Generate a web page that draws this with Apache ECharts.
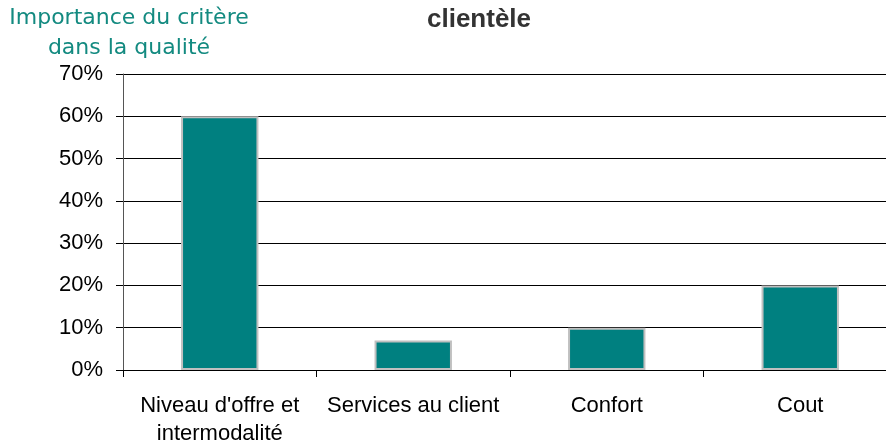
<!DOCTYPE html>
<html>
<head>
<meta charset="utf-8">
<script src="https://cdn.jsdelivr.net/npm/echarts@6/dist/echarts.min.js"></script>
<style>
  html, body { margin: 0; padding: 0; background: #fff; }
  #chart { width: 886px; height: 441px; }
</style>
</head>
<body>
<div id="chart"></div>
<script>
// données
const categories = ["Niveau d'offre et\nintermodalité", 'Services au client', 'Confort', 'Cout']
const values = [60, 7, 10, 20]
const yTicks = [0, 10, 20, 30, 40, 50, 60, 70]

const myChart = echarts.init(document.getElementById('chart'))

const option = {
  animation: false,
  title: {
    text: 'clientèle',
    left: 422,
    top: 2,
    textStyle: {
      fontFamily: 'Liberation Sans',
      fontSize: 26,
      fontWeight: 'bold',
      color: '#333333'
    }
  },
  grid: {
    left: 123,
    top: 74,
    width: 774,
    height: 296,
    outerBoundsMode: 'none',
    containLabel: false
  },
  xAxis: {
    type: 'category',
    data: categories,
    boundaryGap: true,
    axisLine: { lineStyle: { color: '#000', width: 1 } },
    axisTick: { show: true, length: 7, lineStyle: { color: '#000' } },
    axisLabel: {
      interval: 0,
      margin: 22,
      color: '#000',
      fontFamily: 'Liberation Sans',
      fontSize: 22,
      lineHeight: 28
    }
  },
  yAxis: {
    type: 'value',
    min: yTicks[0],
    max: yTicks[yTicks.length - 1],
    interval: 10,
    name: 'Importance du critère\ndans la qualité',
    nameLocation: 'end',
    nameGap: 5,
    nameTextStyle: {
      color: '#138a80',
      fontFamily: 'DejaVu Sans',
      fontSize: 22,
      lineHeight: 30,
      align: 'center',
      verticalAlign: 'bottom',
      padding: [0, 0, 0, 12]
    },
    axisLine: { show: true, lineStyle: { color: '#555', width: 1 } },
    axisTick: { show: true, length: 7, lineStyle: { color: '#000' } },
    axisLabel: {
      margin: 20,
      color: '#000',
      fontFamily: 'Liberation Sans',
      fontSize: 22,
      formatter: (v) => v + '%'
    },
    splitLine: { show: true, lineStyle: { color: '#000', width: 1 } }
  },
  series: [
    {
      type: 'bar',
      data: values,
      barWidth: '40%',
      itemStyle: {
        color: '#008080',
        borderColor: '#c0c0c0',
        borderWidth: 2
      }
    }
  ]
}

myChart.setOption(option)
</script>
</body>
</html>
